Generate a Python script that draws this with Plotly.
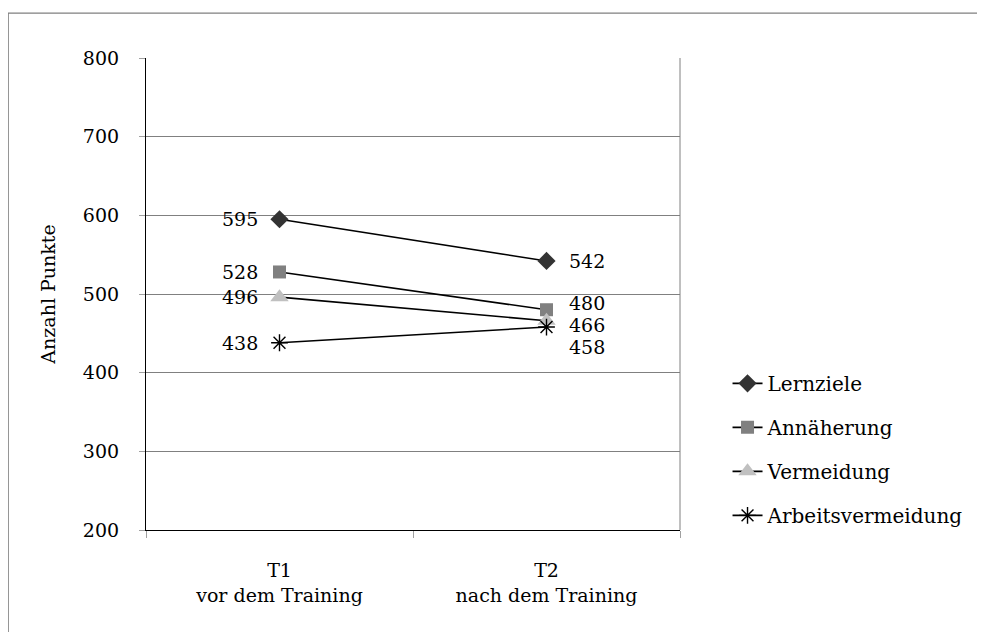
import plotly.graph_objects as go

zeitpunkte = ["T1<br>vor dem Training", "T2<br>nach dem Training"]
serien = ["Lernziele", "Annäherung", "Vermeidung", "Arbeitsvermeidung"]
lernziele = [595, 542]
annaeherung = [528, 480]
vermeidung = [496, 466]
arbeitsvermeidung = [438, 458]

werte = [lernziele, annaeherung, vermeidung, arbeitsvermeidung]
symbole = ["diamond", "square", "triangle-up", "asterisk-open"]
farben = ["#333333", "#808080", "#c0c0c0", "#000000"]
groessen = [14, 13, 16, 14]
# label offsets at T2 so the close values don't overlap
yshift_t2 = [0, 7, -4, -20]

FONT = "DejaVu Serif"

fig = go.Figure()
for name, y, sym, col, sz in zip(serien, werte, symbole, farben, groessen):
    fig.add_trace(go.Scatter(
        x=zeitpunkte, y=y, name=name, mode="lines+markers",
        line=dict(color="black", width=1.6),
        marker=dict(symbol=sym, color=col, size=sz,
                    line=dict(color="black", width=1.4) if sym == "asterisk-open" else dict(width=0)),
        legendgroup=name, hoverinfo="skip",
    ))

annots = []
for i, y in enumerate(werte):
    annots.append(dict(x=zeitpunkte[0], y=y[0], text=str(y[0]), showarrow=False,
                       xanchor="right", xshift=-20, font=dict(family=FONT, size=19, color="black")))
    annots.append(dict(x=zeitpunkte[1], y=y[1], text=str(y[1]), showarrow=False,
                       xanchor="left", xshift=20, yshift=yshift_t2[i],
                       font=dict(family=FONT, size=19, color="black")))

fig.update_layout(
    width=985, height=632,
    margin=dict(l=138, r=313, t=50, b=110),
    paper_bgcolor="white", plot_bgcolor="white",
    font=dict(family=FONT, size=19, color="black"),
    showlegend=True,
    legend=dict(x=1.089, y=0.352, xanchor="left", yanchor="top",
                traceorder="grouped", tracegroupgap=15,
                font=dict(family=FONT, size=20, color="black")),
    annotations=annots,
    shapes=[
        # outer frame of the figure
        dict(type="rect", xref="paper", yref="paper", x0=-0.258, x1=1.7, y0=-0.5, y1=1.095,
             line=dict(color="#808080", width=1.2), fillcolor="rgba(0,0,0,0)", layer="below"),
        # right border of plot area
        dict(type="line", xref="paper", yref="paper", x0=1, x1=1, y0=0, y1=1,
             line=dict(color="#808080", width=1)),
    ],
)

fig.update_xaxes(
    range=[-0.5, 1.5],
    showgrid=False, showline=True, linecolor="black", linewidth=1.2,
    ticks="outside", tickson="boundaries", ticklen=7, tickcolor="#a0a0a0",
    ticklabelstandoff=23, zeroline=False,
)
fig.update_yaxes(
    range=[200, 800], dtick=100, showgrid=True, gridcolor="#808080", gridwidth=1,
    showline=True, linecolor="black", linewidth=1.2,
    ticks="outside", ticklen=6, tickcolor="#a0a0a0", ticklabelstandoff=16,
    zeroline=False,
    title=dict(text="Anzahl Punkte", standoff=22, font=dict(family=FONT, size=19)),
)

fig.write_html("out.html")
